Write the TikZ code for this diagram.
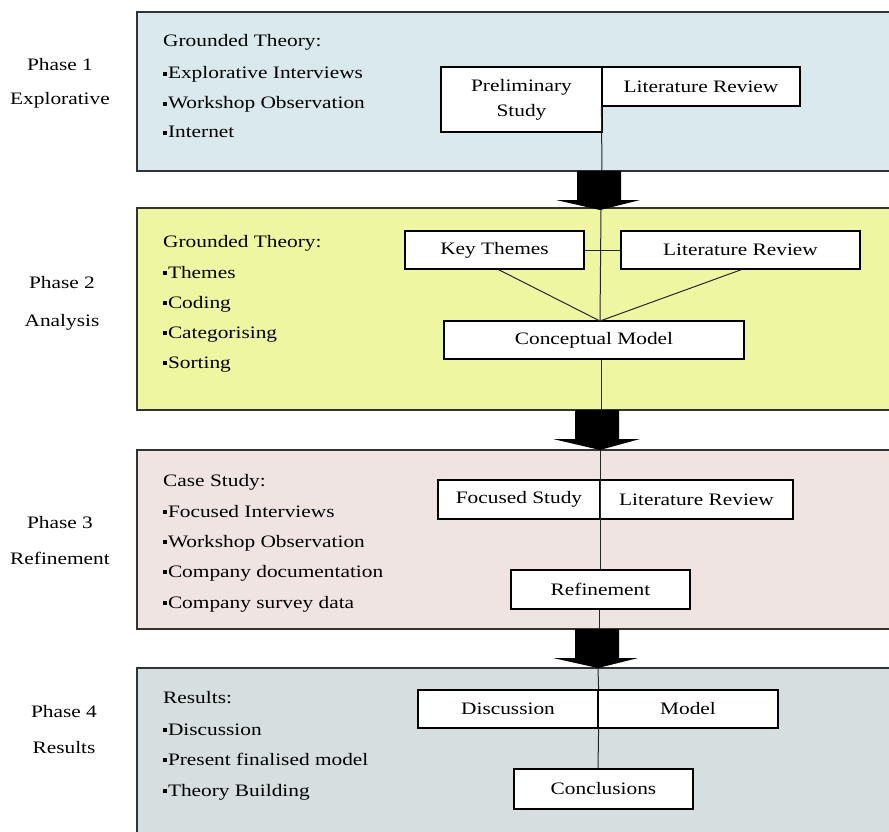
\documentclass[tikz,border=0pt]{standalone}
\usepackage{fontspec}
\setmainfont[FakeStretch=1.22]{Liberation Serif}
\definecolor{pone}{HTML}{DAE9EE}
\definecolor{ptwo}{HTML}{EFF6A2}
\definecolor{pthree}{HTML}{F0E4E3}
\definecolor{pfour}{HTML}{D6DEDF}
\definecolor{edge}{HTML}{333333}
\newcommand{\sqbul}{\raisebox{3pt}{\rule{3.6pt}{3.6pt}}\kern1.2pt}
\begin{document}
\begin{tikzpicture}[x=1pt,y=-1pt,
  every node/.style={font=\fontsize{17.5}{25}\selectfont},
  panel/.style={draw=edge, line width=1.4pt},
  txt/.style={anchor=base west, inner sep=0pt},
  lbl/.style={anchor=base, inner sep=0pt},
  stagebox/.style={draw=black, line width=1.2pt, fill=white, inner sep=0pt,
    align=center, minimum height=38pt},
  conn/.style={draw=black!85, line width=1pt},
  blockarrow/.style={fill=black}]
\useasboundingbox (0,0) rectangle (889,832);
\clip (0,0) rectangle (889,832);

% phase panels (open to the right and, for the last one, to the bottom)
\filldraw[panel, fill=pone]   (137,12)  rectangle (905,171);
\filldraw[panel, fill=ptwo]   (137,208) rectangle (905,410);
\filldraw[panel, fill=pthree] (137,450) rectangle (905,629);
\filldraw[panel, fill=pfour]  (137,668) rectangle (905,850);

% phase captions
\node[lbl] (c1a) at (60,71)  {Phase 1};
\node[lbl] (c1b) at (60,105) {Explorative};
\node[lbl] (c2a) at (62,288) {Phase 2};
\node[lbl] (c2b) at (62,326) {Analysis};
\node[lbl] (c3a) at (60,528) {Phase 3};
\node[lbl] (c3b) at (60,564) {Refinement};
\node[lbl] (c4a) at (64,717) {Phase 4};
\node[lbl] (c4b) at (64,753) {Results};

% method lists
\node[txt] (l1h) at (163,47)  {Grounded Theory:};
\node[txt] (l1a) at (163,79)  {\sqbul Explorative Interviews};
\node[txt] (l1b) at (163,109) {\sqbul Workshop Observation};
\node[txt] (l1c) at (163,138) {\sqbul Internet};

\node[txt] (l2h) at (163,247) {Grounded Theory:};
\node[txt] (l2a) at (163,278) {\sqbul Themes};
\node[txt] (l2b) at (163,308) {\sqbul Coding};
\node[txt] (l2c) at (163,338) {\sqbul Categorising};
\node[txt] (l2d) at (163,368) {\sqbul Sorting};

\node[txt] (l3h) at (163,486) {Case Study:};
\node[txt] (l3a) at (163,517) {\sqbul Focused Interviews};
\node[txt] (l3b) at (163,547) {\sqbul Workshop Observation};
\node[txt] (l3c) at (163,577) {\sqbul Company documentation};
\node[txt] (l3d) at (163,608) {\sqbul Company survey data};

\node[txt] (l4h) at (163,703) {Results:};
\node[txt] (l4a) at (163,735) {\sqbul Discussion};
\node[txt] (l4b) at (163,765) {\sqbul Present finalised model};
\node[txt] (l4c) at (163,796) {\sqbul Theory Building};

% block arrows between phases
\fill[blockarrow] (577,171) -- (621,171) -- (621,200) -- (640,200) -- (600,210)
  -- (556,200) -- (577,200) -- cycle;
\fill[blockarrow] (575,410) -- (619,410) -- (619,439) -- (640,439) -- (600,450)
  -- (553,439) -- (575,439) -- cycle;
\fill[blockarrow] (575,629) -- (619,629) -- (619,658) -- (638,658) -- (598,668)
  -- (553,658) -- (575,658) -- cycle;

\coordinate (b1) at (602,171);
\coordinate (t2) at (601,210);
\coordinate (b2) at (601,410);
\coordinate (t3) at (600,450);
\coordinate (b3) at (599,629);
\coordinate (t4) at (598,668);

% phase 1 stages
\node[stagebox, minimum width=161pt, minimum height=65pt] (prelim) at (521.5,99.5)
  {Preliminary\\Study};
\node[stagebox, minimum width=198pt, minimum height=39pt] (litA) at (701,86.5)
  {Literature Review};
\draw[conn] (litA.south west) -- (b1);

% phase 2 stages
\node[stagebox, minimum width=179pt] (themes) at (494.5,250) {Key Themes};
\node[stagebox, minimum width=239pt] (litB) at (740.5,250) {Literature Review};
\node[stagebox, minimum width=300pt] (cmodel) at (594,340) {Conceptual Model};
\coordinate (meet) at (600,321);
\draw[conn] (themes.east) -- (litB.west);
\draw[conn] (t2) -- (meet);
\draw[conn] (themes.south) ++(4,0) -- (meet);
\draw[conn] (litB.south) ++(1,0) -- (meet);
\draw[conn] (cmodel.south -| b2) -- (b2);

% phase 3 stages
\node[stagebox, minimum width=162pt, minimum height=39pt] (focus) at (519,499.5) {Focused Study};
\node[stagebox, minimum width=193pt, minimum height=39pt] (litC) at (696.5,499.5) {Literature Review};
\node[stagebox, minimum width=179pt, minimum height=39pt] (refine) at (600.5,589.5) {Refinement};
\draw[conn] (t3) -- (refine.north -| t3);
\draw[conn] (refine.south -| b3) -- (b3);

% phase 4 stages
\node[stagebox, minimum width=180pt] (disc) at (508,709) {Discussion};
\node[stagebox, minimum width=180pt] (model) at (688,709) {Model};
\node[stagebox, minimum width=179pt, minimum height=40pt] (concl) at (603.5,789) {Conclusions};
\draw[conn] (t4) -- (disc.north east);
\draw[conn] (disc.south east) -- (concl.north -| t4);
\end{tikzpicture}
\end{document}
